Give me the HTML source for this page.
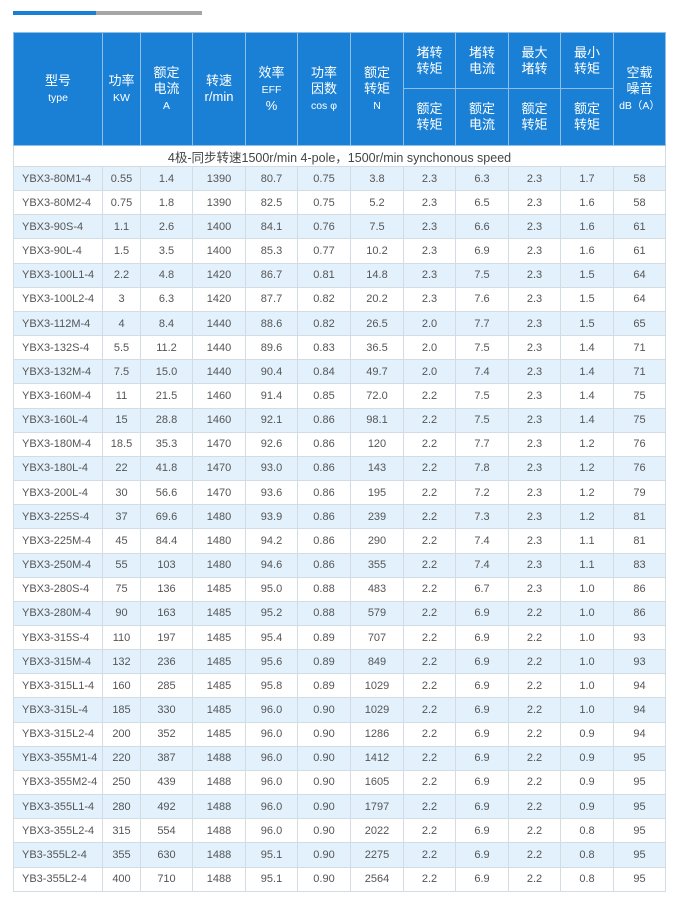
<!DOCTYPE html>
<html><head><meta charset="utf-8">
<style>
body{margin:0;width:680px;height:907px;background:#fff;position:relative;font-family:"Liberation Sans","Noto Sans CJK SC",sans-serif;}
.bar1{position:absolute;left:13px;top:11px;width:83px;height:4px;background:#1a7fd4;}
.bar2{position:absolute;left:96px;top:11px;width:106px;height:4px;background:#a6a6a6;}
table{position:absolute;left:13px;top:32px;border-collapse:collapse;table-layout:fixed;width:652px;}
th{background:#1a80d5;color:#fff;font-weight:normal;border:1px solid #8cc0ea;font-size:13px;line-height:16px;padding:0;text-align:center;}
th small{font-size:10.5px;}
td{border:1px solid #d3dbe3;font-size:11px;color:#555;text-align:center;padding:0;height:23.17px;}
td.m{text-align:left;padding-left:8px;}
tr.odd td{background:#e2f1fc;}
td.sec{height:20px;font-size:12.5px;color:#444;background:#fff;}
</style></head><body>
<div class="bar1"></div>
<div class="bar2"></div>
<table>
<colgroup><col style="width:89px"><col style="width:38px"><col style="width:52px"><col style="width:53px"><col style="width:52px"><col style="width:53px"><col style="width:53px"><col style="width:52px"><col style="width:53px"><col style="width:52px"><col style="width:53px"><col style="width:52px"></colgroup>
<thead>
<tr style="height:56px">
<th rowspan="2">型号<br><small>type</small></th>
<th rowspan="2">功率<br><small>KW</small></th>
<th rowspan="2">额定<br>电流<br><small>A</small></th>
<th rowspan="2">转速<br>r/min</th>
<th rowspan="2">效率<br><small>EFF</small><br>%</th>
<th rowspan="2">功率<br>因数<br><small>cos φ</small></th>
<th rowspan="2">额定<br>转矩<br><small>N</small></th>
<th>堵转<br>转矩</th>
<th>堵转<br>电流</th>
<th>最大<br>堵转</th>
<th>最小<br>转矩</th>
<th rowspan="2">空载<br>噪音<br><small>dB（A）</small></th>
</tr>
<tr style="height:57px">
<th>额定<br>转矩</th>
<th>额定<br>电流</th>
<th>额定<br>转矩</th>
<th>额定<br>转矩</th>
</tr>
</thead>
<tbody id="tb">
<tr><td class="sec" colspan="12">4极-同步转速1500r/min 4-pole，1500r/min synchonous speed</td></tr>
</tbody>
</table>
<script>
const models=["YBX3-80M1-4","YBX3-80M2-4","YBX3-90S-4","YBX3-90L-4","YBX3-100L1-4","YBX3-100L2-4","YBX3-112M-4","YBX3-132S-4","YBX3-132M-4","YBX3-160M-4","YBX3-160L-4","YBX3-180M-4","YBX3-180L-4","YBX3-200L-4","YBX3-225S-4","YBX3-225M-4","YBX3-250M-4","YBX3-280S-4","YBX3-280M-4","YBX3-315S-4","YBX3-315M-4","YBX3-315L1-4","YBX3-315L-4","YBX3-315L2-4","YBX3-355M1-4","YBX3-355M2-4","YBX3-355L1-4","YBX3-355L2-4","YB3-355L2-4","YB3-355L2-4"];
const power=["0.55","0.75","1.1","1.5","2.2","3","4","5.5","7.5","11","15","18.5","22","30","37","45","55","75","90","110","132","160","185","200","220","250","280","315","355","400"];
const current=["1.4","1.8","2.6","3.5","4.8","6.3","8.4","11.2","15.0","21.5","28.8","35.3","41.8","56.6","69.6","84.4","103","136","163","197","236","285","330","352","387","439","492","554","630","710"];
const speed=["1390","1390","1400","1400","1420","1420","1440","1440","1440","1460","1460","1470","1470","1470","1480","1480","1480","1485","1485","1485","1485","1485","1485","1485","1488","1488","1488","1488","1488","1488"];
const eff=["80.7","82.5","84.1","85.3","86.7","87.7","88.6","89.6","90.4","91.4","92.1","92.6","93.0","93.6","93.9","94.2","94.6","95.0","95.2","95.4","95.6","95.8","96.0","96.0","96.0","96.0","96.0","96.0","95.1","95.1"];
const pf=["0.75","0.75","0.76","0.77","0.81","0.82","0.82","0.83","0.84","0.85","0.86","0.86","0.86","0.86","0.86","0.86","0.86","0.88","0.88","0.89","0.89","0.89","0.90","0.90","0.90","0.90","0.90","0.90","0.90","0.90"];
const torque=["3.8","5.2","7.5","10.2","14.8","20.2","26.5","36.5","49.7","72.0","98.1","120","143","195","239","290","355","483","579","707","849","1029","1029","1286","1412","1605","1797","2022","2275","2564"];
const lockT=["2.3","2.3","2.3","2.3","2.3","2.3","2.0","2.0","2.0","2.2","2.2","2.2","2.2","2.2","2.2","2.2","2.2","2.2","2.2","2.2","2.2","2.2","2.2","2.2","2.2","2.2","2.2","2.2","2.2","2.2"];
const lockI=["6.3","6.5","6.6","6.9","7.5","7.6","7.7","7.5","7.4","7.5","7.5","7.7","7.8","7.2","7.3","7.4","7.4","6.7","6.9","6.9","6.9","6.9","6.9","6.9","6.9","6.9","6.9","6.9","6.9","6.9"];
const maxT=["2.3","2.3","2.3","2.3","2.3","2.3","2.3","2.3","2.3","2.3","2.3","2.3","2.3","2.3","2.3","2.3","2.3","2.3","2.2","2.2","2.2","2.2","2.2","2.2","2.2","2.2","2.2","2.2","2.2","2.2"];
const minT=["1.7","1.6","1.6","1.6","1.5","1.5","1.5","1.4","1.4","1.4","1.4","1.2","1.2","1.2","1.2","1.1","1.1","1.0","1.0","1.0","1.0","1.0","1.0","0.9","0.9","0.9","0.9","0.8","0.8","0.8"];
const noise=["58","58","61","61","64","64","65","71","71","75","75","76","76","79","81","81","83","86","86","93","93","94","94","94","95","95","95","95","95","95"];
const tb=document.getElementById('tb');
const cols=[models,power,current,speed,eff,pf,torque,lockT,lockI,maxT,minT,noise];
const colNames=['model','power','current','speed','efficiency','power-factor','torque','locked-torque','locked-current','max-torque','min-torque','noise'];
for(let i=0;i<models.length;i++){
  const tr=document.createElement('tr');
  
  
  if(i%2===0)tr.className='odd';
  cols.forEach((c,j)=>{
    const td=document.createElement('td');
    td.textContent=c[i];
    if(j===0)td.className='m';
    
    
    tr.appendChild(td);
  });
  tb.appendChild(tr);
}
</script>
</body></html>
